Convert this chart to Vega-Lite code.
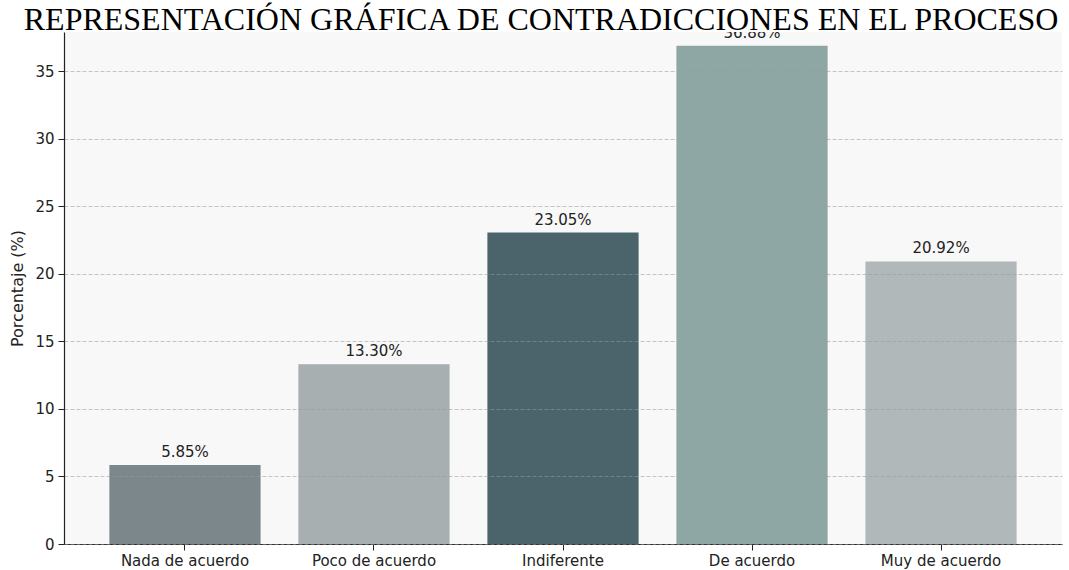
{
  "$schema": "https://vega.github.io/schema/vega-lite/v6.json",
  "width": 998,
  "height": 512,
  "autosize": {"type": "none"},
  "padding": {"left": 64, "top": 32, "right": 7, "bottom": 26},
  "background": "#ffffff",
  "config": {
    "view": {"fill": "#f8f8f8", "stroke": null},
    "font": "DejaVu Sans"
  },
  "title": {
    "text": "REPRESENTACIÓN GRÁFICA DE CONTRADICCIONES EN EL PROCESO",
    "font": "Liberation Serif",
    "fontSize": 32,
    "fontWeight": "normal",
    "color": "#000000",
    "anchor": "middle",
    "frame": "group",
    "dx": -22,
    "offset": 0,
    "baseline": "alphabetic",
    "dy": 30
  },
  "data": {
    "values": [
      {"categoria": "Nada de acuerdo", "porcentaje": 5.85, "etiqueta": "5.85%", "color": "#7b878b"},
      {"categoria": "Poco de acuerdo", "porcentaje": 13.30, "etiqueta": "13.30%", "color": "#a7afb0"},
      {"categoria": "Indiferente", "porcentaje": 23.05, "etiqueta": "23.05%", "color": "#4b646b"},
      {"categoria": "De acuerdo", "porcentaje": 36.88, "etiqueta": "36.88%", "color": "#8fa7a4"},
      {"categoria": "Muy de acuerdo", "porcentaje": 20.92, "etiqueta": "20.92%", "color": "#b0b8ba"}
    ]
  },
  "encoding": {
    "x": {
      "field": "categoria",
      "type": "nominal",
      "sort": null,
      "scale": {"paddingInner": 0.2, "paddingOuter": 0.24},
      "axis": {
        "title": null,
        "labelAngle": 0,
        "labelFontSize": 15,
        "labelColor": "#222222",
        "labelPadding": 3,
        "tickColor": "#222222",
        "tickSize": 6,
        "domainColor": "#222222",
        "domainWidth": 1.2
      }
    },
    "y": {
      "field": "porcentaje",
      "type": "quantitative",
      "scale": {"domain": [0, 37.9], "nice": false},
      "axis": {
        "title": "Porcentaje (%)",
        "titleFontSize": 16,
        "titleFontWeight": "normal",
        "titleColor": "#222222",
        "titlePadding": 9,
        "values": [0, 5, 10, 15, 20, 25, 30, 35],
        "labelFontSize": 15,
        "labelColor": "#222222",
        "labelPadding": 4,
        "tickColor": "#222222",
        "tickSize": 6,
        "domainColor": "#222222",
        "domainWidth": 1.2,
        "grid": true,
        "gridColor": "#999999",
        "gridOpacity": 0.55,
        "gridDash": [4, 2],
        "gridWidth": 1,
        "zindex": 1
      }
    }
  },
  "layer": [
    {
      "mark": {"type": "bar"},
      "encoding": {
        "color": {"field": "color", "type": "nominal", "scale": null, "legend": null}
      }
    },
    {
      "mark": {
        "type": "text",
        "clip": true,
        "baseline": "alphabetic",
        "dy": -8,
        "fontSize": 15,
        "color": "#222222"
      },
      "encoding": {
        "text": {"field": "etiqueta", "type": "nominal"}
      }
    }
  ]
}
